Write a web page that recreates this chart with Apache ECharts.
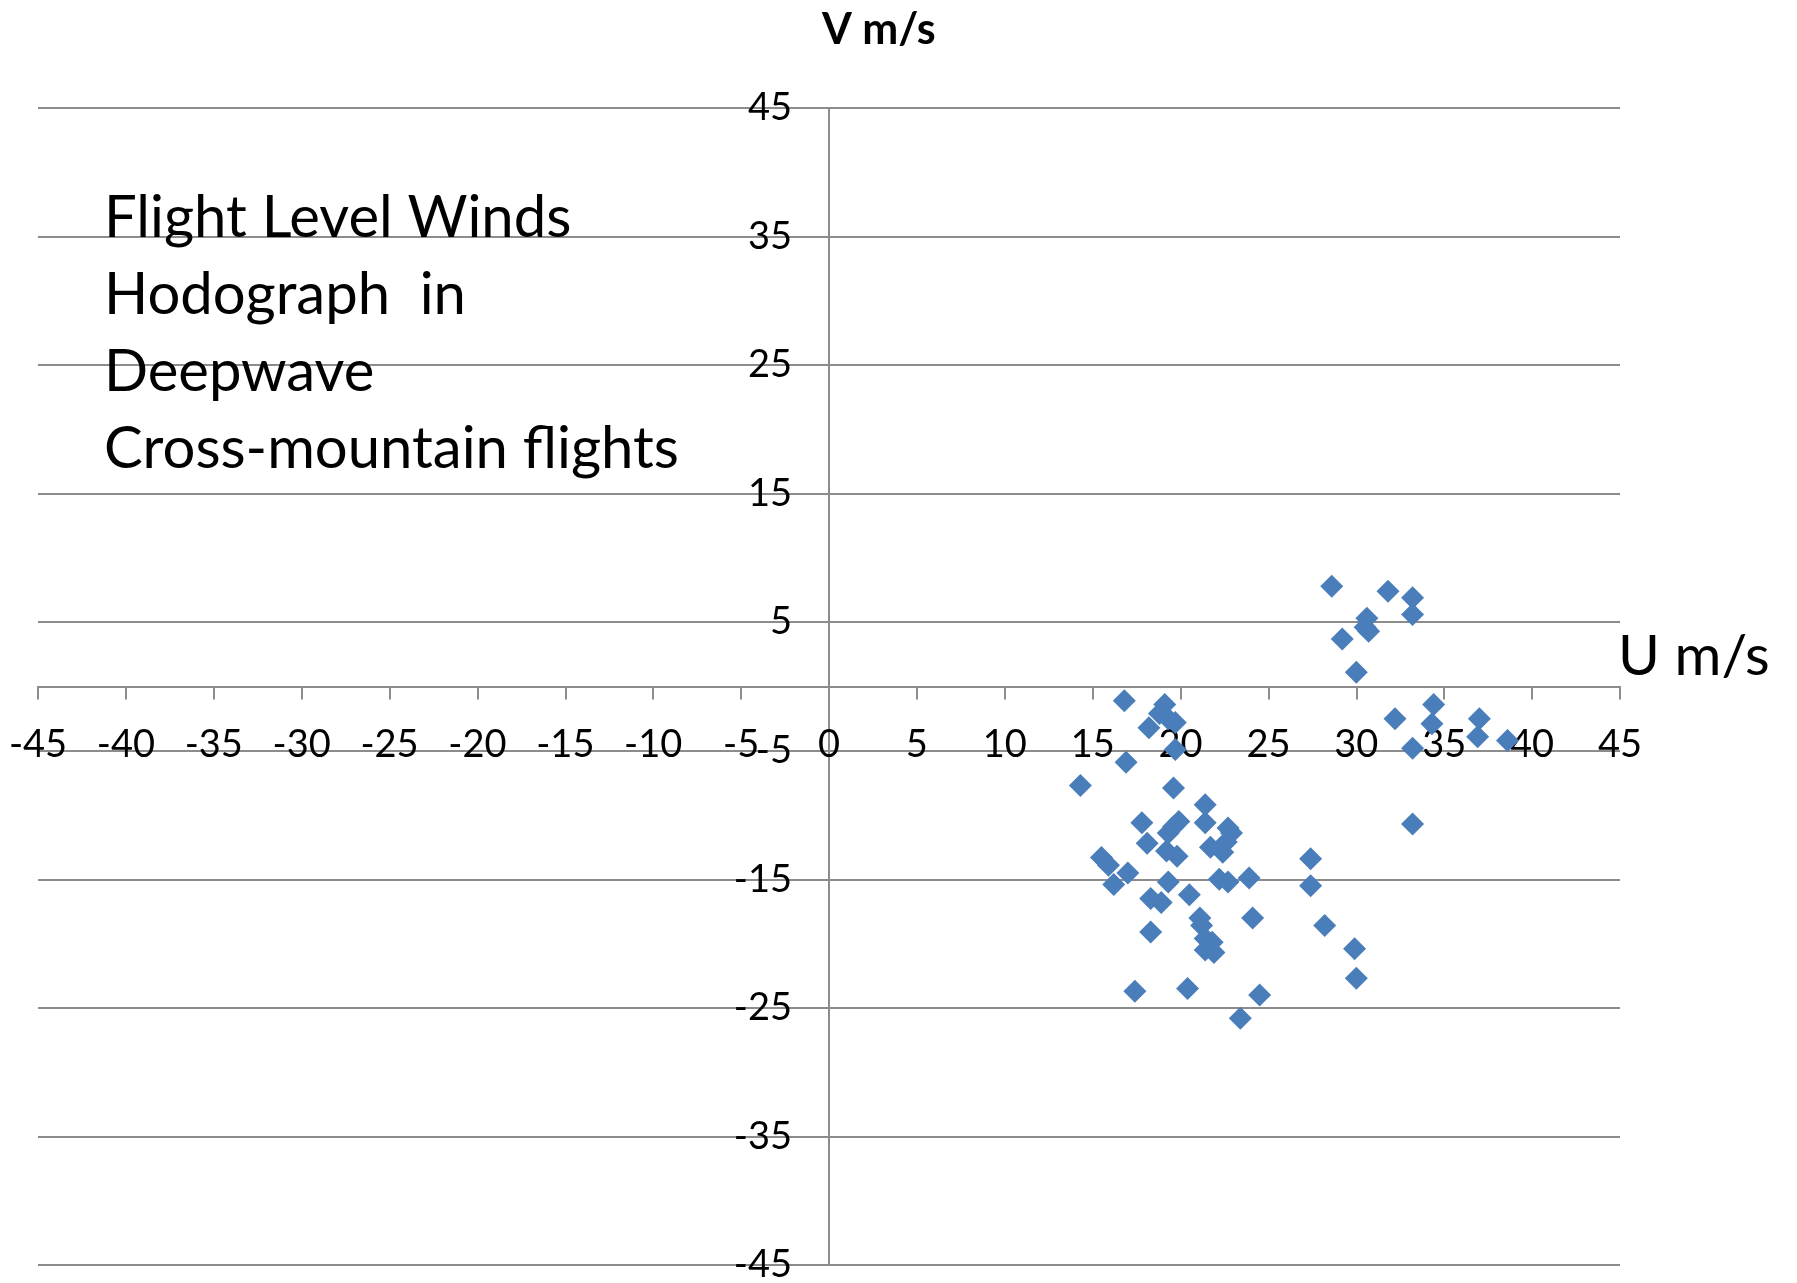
<!DOCTYPE html>
<html>
<head>
<meta charset="utf-8">
<script src="https://cdn.jsdelivr.net/npm/echarts@6/dist/echarts.min.js"></script>
<style>
html,body{margin:0;padding:0;background:#fff;}
#chart{width:1797px;height:1283px;}
</style>
</head>
<body>
<div id="chart"></div>
<script>
// U (east-west) wind component, m/s
var uValues = [
  28.6, 31.8, 33.2, 33.2, 30.6, 30.5, 30.7, 29.2, 30.0,
  34.4, 32.2, 37.0, 34.3, 36.9, 38.6, 33.2, 33.2,
  16.8, 19.1, 18.8, 19.3, 19.7, 18.2, 19.7, 16.9, 14.3, 19.6,
  21.4, 17.8, 21.4, 19.9, 19.6, 19.3, 22.7, 22.9, 18.1, 21.7,
  22.6, 22.4, 19.2, 19.8, 15.5, 15.9, 17.0, 27.4, 16.2, 19.3,
  22.2, 22.7, 23.9, 27.4, 20.5, 18.3, 18.9, 21.1, 24.1, 21.2,
  28.2, 18.3, 21.4, 21.8, 21.4, 21.9, 29.9, 30.0, 17.4, 20.4,
  24.5, 23.4
];
// V (north-south) wind component, m/s
var vValues = [
  7.8, 7.4, 6.9, 5.6, 5.3, 4.6, 4.3, 3.7, 1.1,
  -1.4, -2.5, -2.5, -2.9, -3.9, -4.2, -4.8, -10.7,
  -1.1, -1.4, -2.1, -2.5, -2.8, -3.2, -4.9, -5.9, -7.7, -7.9,
  -9.2, -10.6, -10.6, -10.5, -10.9, -11.4, -11.0, -11.4, -12.2, -12.5,
  -12.1, -12.9, -12.8, -13.2, -13.3, -13.9, -14.5, -13.4, -15.4, -15.2,
  -15.0, -15.2, -14.9, -15.5, -16.2, -16.5, -16.8, -18.0, -18.0, -18.6,
  -18.6, -19.1, -19.6, -19.9, -20.5, -20.7, -20.4, -22.7, -23.7, -23.5,
  -24.0, -25.8
];
var axisMin = -45, axisMax = 45;
var uTickInterval = 5, vTickInterval = 10;
var titleLines = ['Flight Level Winds', 'Hodograph  in', 'Deepwave', 'Cross-mountain flights'];
var uAxisName = 'U m/s', vAxisName = 'V m/s';

var points = uValues.map(function (u, i) { return [u, vValues[i]]; });

// layout
var W = 1797, H = 1283;
var gridL = 38, gridR = 177, gridT = 108, gridB = 18;
var gridW = W - gridL - gridR, gridH = H - gridT - gridB;
// axes cross at the origin, which sits at the middle of the symmetric range
var xAxisOffset = -gridH * (0 - axisMin) / (axisMax - axisMin);
var yAxisOffset = -gridW * (0 - axisMin) / (axisMax - axisMin);

var chart = echarts.init(document.getElementById('chart'), null, {renderer: 'canvas'});
var gray = '#8c8c8c';
var font = 'Lato, "Open Sans", sans-serif';
chart.setOption({
  animation: false,
  backgroundColor: '#ffffff',
  grid: {left: gridL, right: gridR, top: gridT, bottom: gridB, containLabel: false, outerBoundsMode: 'none'},
  xAxis: {
    type: 'value', min: axisMin, max: axisMax, interval: uTickInterval,
    position: 'bottom', offset: xAxisOffset,
    axisLine: {show: true, onZero: false, lineStyle: {color: gray, width: 2}},
    axisTick: {show: true, length: 13, lineStyle: {color: gray, width: 2}},
    axisLabel: {show: true, margin: 39, color: '#000', fontSize: 38, fontFamily: font,
      showMinLabel: true, showMaxLabel: true},
    splitLine: {show: false}
  },
  yAxis: {
    type: 'value', min: axisMin, max: axisMax, interval: vTickInterval,
    position: 'left', offset: yAxisOffset,
    axisLine: {show: true, onZero: false, lineStyle: {color: gray, width: 2}},
    axisTick: {show: true, length: 12, lineStyle: {color: gray, width: 2}},
    axisLabel: {show: true, margin: 37, color: '#000', fontSize: 38, fontFamily: font,
      showMinLabel: true, showMaxLabel: true},
    splitLine: {show: true, lineStyle: {color: gray, width: 2}}
  },
  graphic: [
    {type: 'text', left: 104, top: 180, z: 10,
      style: {text: titleLines.join('\n'), fill: '#000', font: '58px ' + font, lineHeight: 77}},
    {type: 'text', left: 1618, top: 628, z: 10,
      style: {text: uAxisName, fill: '#000', font: '57px ' + font}},
    {type: 'text', left: 822, top: 9, z: 10,
      style: {text: vAxisName, fill: '#000', font: 'bold 43px ' + font}}
  ],
  series: [{
    type: 'scatter',
    data: points,
    symbol: 'diamond',
    symbolSize: 23,
    itemStyle: {color: '#4a7ebb', opacity: 1},
    z: 5
  }]
});
</script>
</body>
</html>
